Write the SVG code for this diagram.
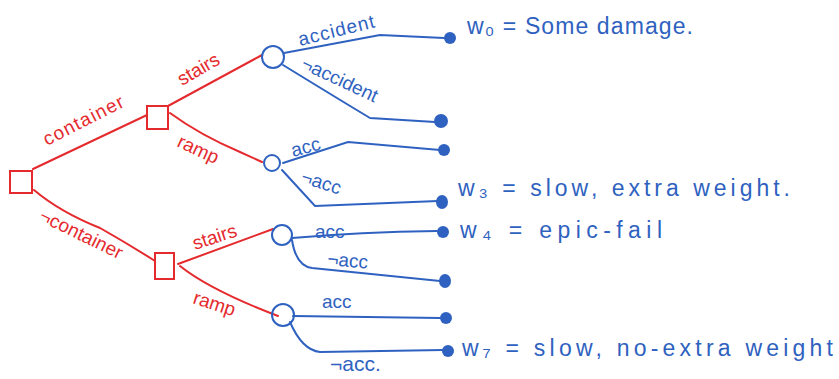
<svg xmlns="http://www.w3.org/2000/svg" width="839" height="379" viewBox="0 0 839 379">
<style>
.r{fill:none;stroke:#e52a2e;stroke-width:2;stroke-linecap:round}
.b{fill:none;stroke:#2f62c0;stroke-width:2;stroke-linecap:round}
.dot{fill:#2f62c0}
.tr{font-family:"Liberation Sans",Arial,sans-serif;fill:#e52a2e;font-size:19px}
.tb{font-family:"Liberation Sans",Arial,sans-serif;fill:#2f62c0;font-size:19px}
.tw{font-family:"Liberation Sans",Arial,sans-serif;fill:#2f62c0;font-size:23px}
</style>
<rect width="839" height="379" fill="#fff"/>
<g id="connectors">
<path class="r" d="M33,169 L147,115"/>
<path class="r" d="M168,106 L262,55"/>
<path class="r" d="M170,113 Q200,135 240,152 L262,162"/>
<path class="r" d="M34,190 Q60,212 100,228 Q130,245 155,261"/>
<path class="r" d="M178,264 L273,229"/>
<path class="r" d="M180,266 Q210,290 278,316"/>
<path class="b" d="M284,53 L380,35 L444,38"/>
<path class="b" d="M283,65 Q340,100 370,118 L435,122"/>
<path class="b" d="M283,163 L348,142 L440,150"/>
<path class="b" d="M282,170 L315,206 L438,201"/>
<path class="b" d="M292,238 Q360,232 437,231"/>
<path class="b" d="M292,240 Q296,266 312,268 Q380,275 440,281"/>
<path class="b" d="M293,316 L440,318"/>
<path class="b" d="M290,322 Q302,350 320,352 L443,350"/>
</g>
<g id="root"><rect class="r" x="10" y="171" width="22" height="22"/></g>
<g id="dec-container"><rect class="r" x="147" y="106" width="21" height="23"/></g>
<g id="dec-notcontainer"><rect class="r" x="155" y="253" width="19" height="26"/></g>
<g id="chance-1"><circle class="b" cx="273" cy="57" r="11"/></g>
<g id="chance-2"><circle class="b" cx="272" cy="163" r="8"/></g>
<g id="chance-3"><circle class="b" cx="282" cy="235" r="10"/></g>
<g id="chance-4"><circle class="b" cx="283" cy="315" r="11"/></g>
<g id="leaf-w0"><circle class="dot" cx="450" cy="38" r="6"/></g>
<g id="leaf-1"><circle class="dot" cx="441" cy="121" r="7"/></g>
<g id="leaf-2"><circle class="dot" cx="444" cy="150" r="6"/></g>
<g id="leaf-w3"><ellipse class="dot" cx="442" cy="202" rx="6" ry="7"/></g>
<g id="leaf-w4"><circle class="dot" cx="443" cy="232" r="6"/></g>
<g id="leaf-5"><ellipse class="dot" cx="445" cy="281" rx="6" ry="7"/></g>
<g id="leaf-6"><circle class="dot" cx="446" cy="318" r="6"/></g>
<g id="leaf-w7"><circle class="dot" cx="448" cy="351" r="6"/></g>
<g id="labels">
<text class="tr" transform="translate(47,146) rotate(-27)" textLength="88">container</text>
<text class="tr" transform="translate(182,86) rotate(-30)">stairs</text>
<text class="tr" transform="translate(176,146) rotate(25)">ramp</text>
<text class="tr" transform="translate(38,220) rotate(26)" textLength="90">¬container</text>
<text class="tr" transform="translate(195,250) rotate(-18)">stairs</text>
<text class="tr" transform="translate(192,303) rotate(18)">ramp</text>
<text class="tb" transform="translate(300,46) rotate(-14)" textLength="78">accident</text>
<text class="tb" transform="translate(300,68) rotate(25)" textLength="82">¬accident</text>
<text class="tb" transform="translate(293,157) rotate(-15)">acc</text>
<text class="tb" transform="translate(300,182) rotate(18)">¬acc</text>
<text class="tb" x="315" y="238">acc</text>
<text class="tb" x="327" y="265" transform="rotate(5,327,265)">¬acc</text>
<text class="tb" x="322" y="308">acc</text>
<text class="tb" x="330" y="371" style="font-size:21px">¬acc.</text>
<text class="tw" x="467" y="34" textLength="226" lengthAdjust="spacing">w₀ = Some damage.</text>
<text class="tw" x="458" y="196" textLength="332" lengthAdjust="spacing">w₃ = slow, extra weight.</text>
<text class="tw" x="460" y="238" textLength="202" lengthAdjust="spacing">w₄ = epic-fail</text>
<text class="tw" x="462" y="356" textLength="371" lengthAdjust="spacing">w₇ = slow, no-extra weight</text>
</g>
</svg>
